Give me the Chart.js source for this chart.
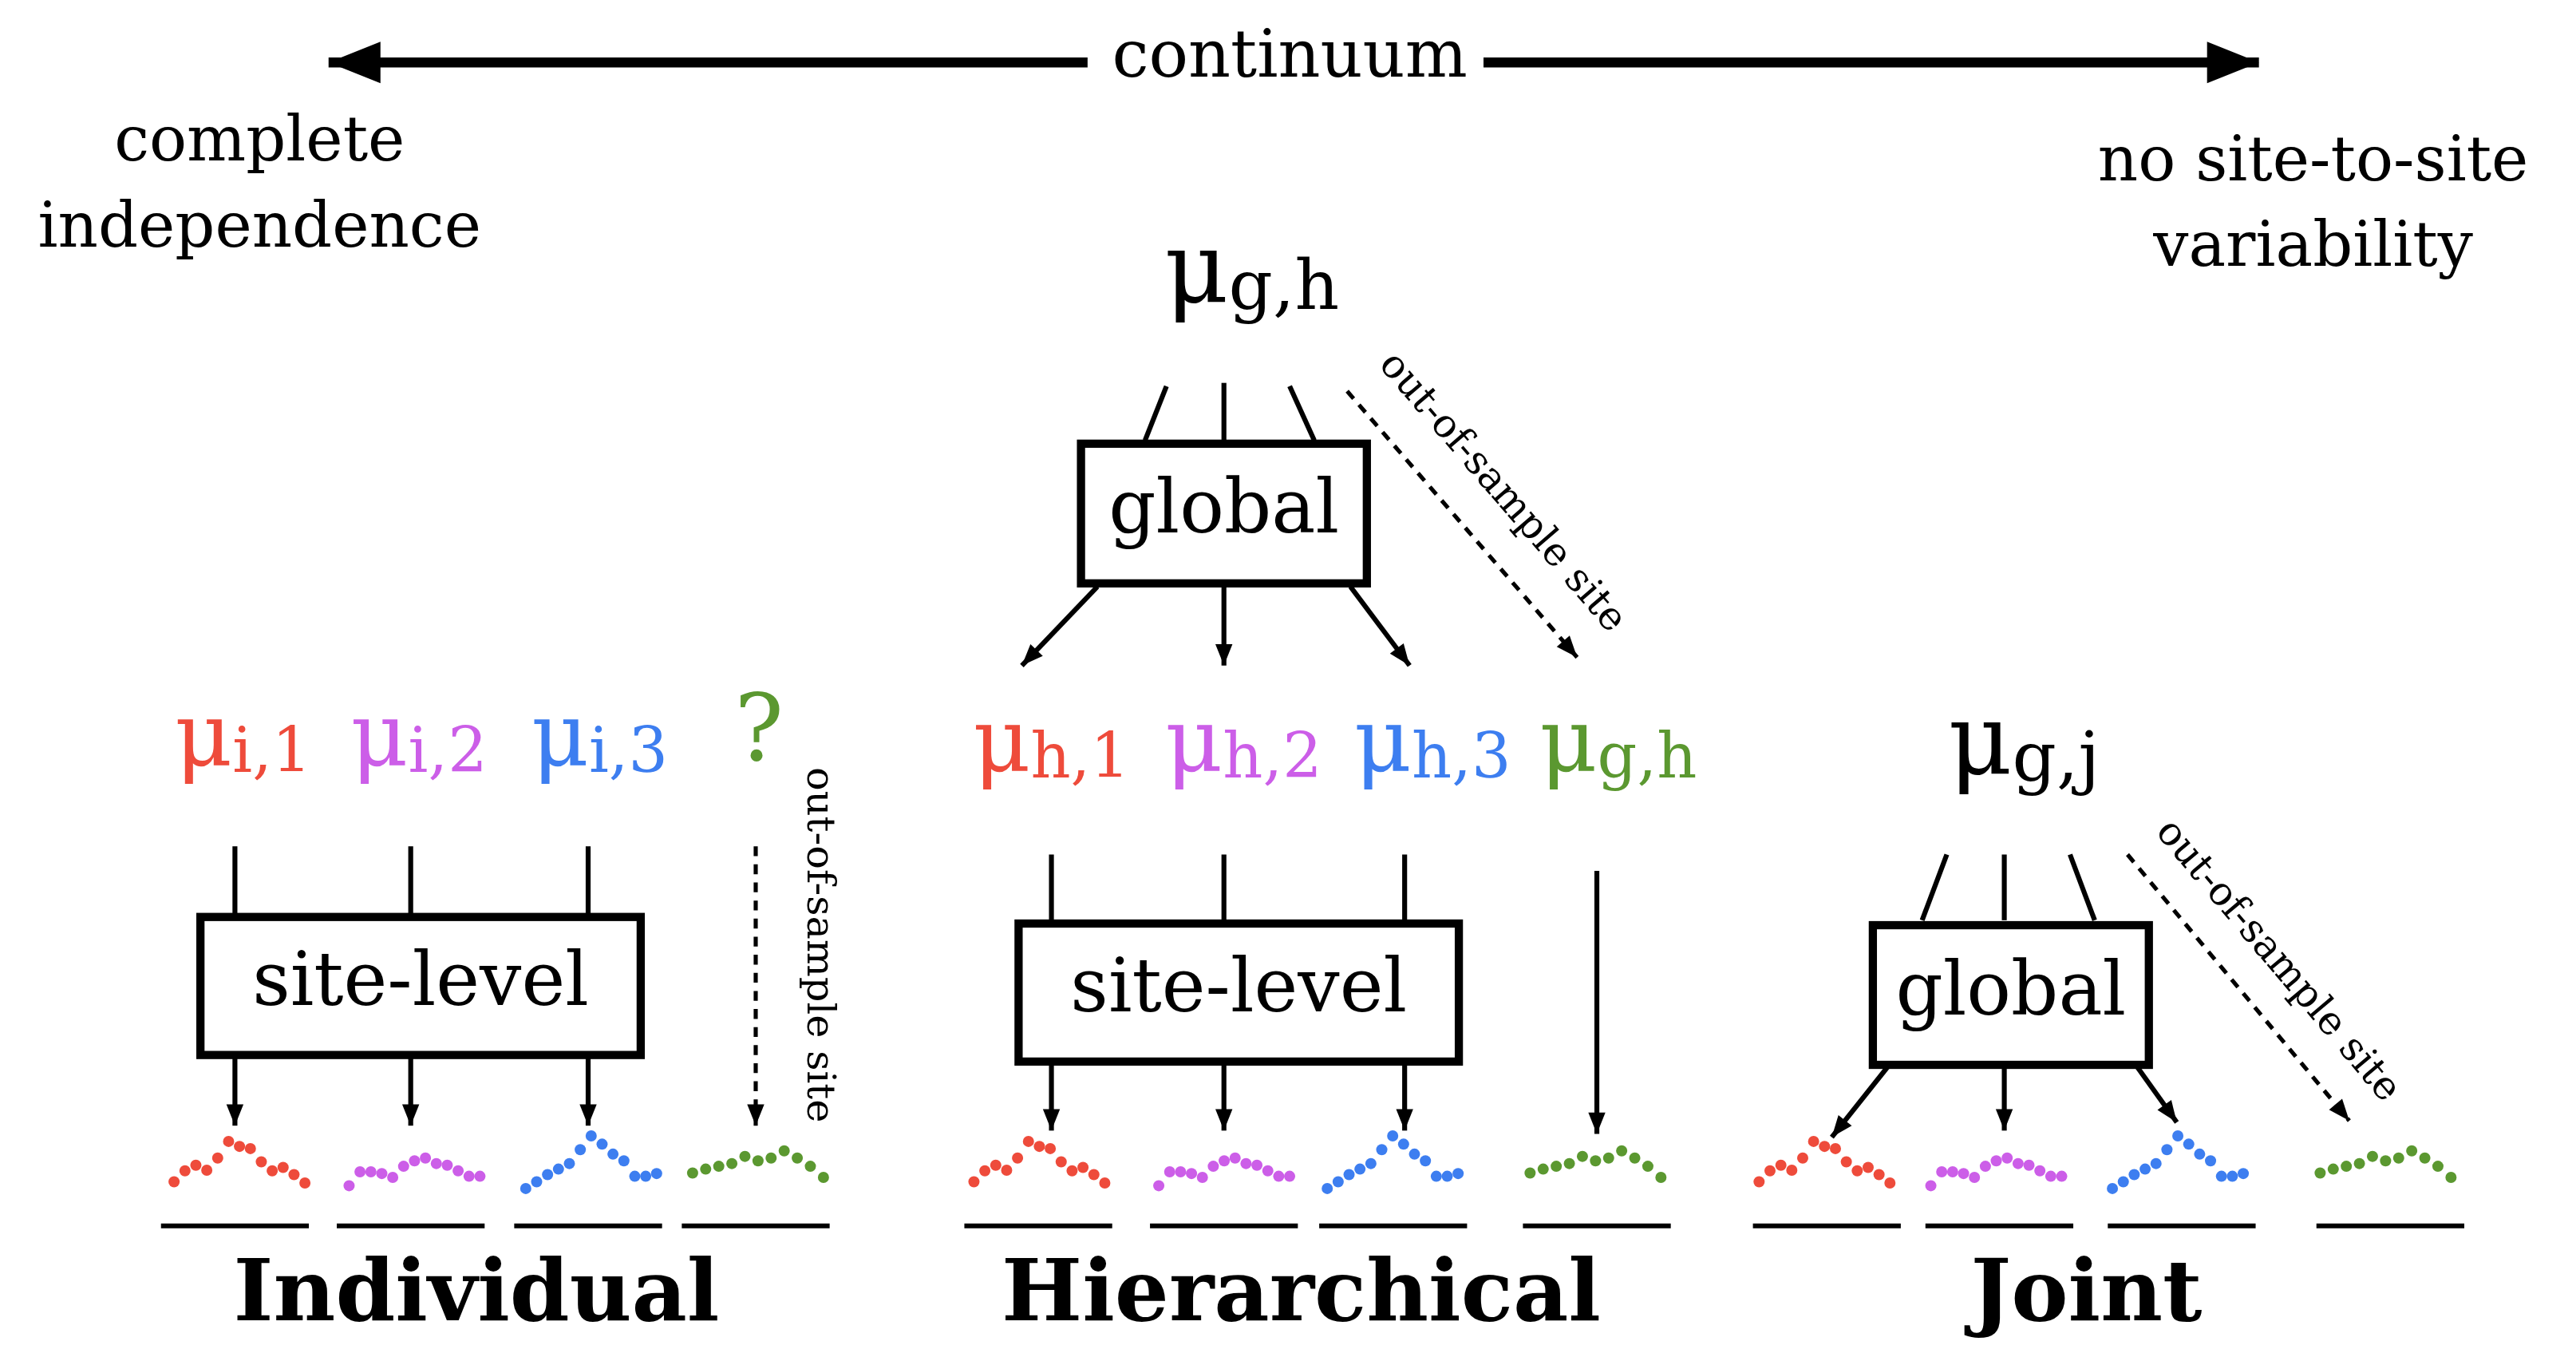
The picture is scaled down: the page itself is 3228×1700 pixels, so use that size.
<!DOCTYPE html>
<html><head><meta charset="utf-8">
<script src="https://cdn.jsdelivr.net/npm/chart.js@4"></script>
<style>html,body{margin:0;padding:0;background:#fff;overflow:hidden}</style>
</head><body>
<canvas id="c" width="3228" height="1700"></canvas>
<script>
// mini-series values (relative heights 0..1)
const redSeries    = [0.12,0.32,0.42,0.33,0.55,0.85,0.76,0.72,0.48,0.32,0.38,0.25,0.1];
const purpleSeries = [0.05,0.3,0.3,0.27,0.2,0.4,0.5,0.55,0.45,0.42,0.32,0.22,0.22];
const blueSeries   = [0.0,0.12,0.25,0.35,0.45,0.7,0.95,0.8,0.62,0.5,0.22,0.22,0.27];
const greenSeries  = [0.28,0.35,0.4,0.45,0.58,0.5,0.55,0.68,0.55,0.4,0.2];
const seriesColors = ['#ee4b3b','#cc5ee8','#3d7ef0','#5b9830'];
const panelCenters = [[143,250,358,460],[632,745,848,972],[1112,1217,1328,1455]];
const panelNames = ['Individual','Hierarchical','Joint'];

const S = 3228/1568;
const allSeries=[redSeries,purpleSeries,blueSeries,greenSeries];
const datasets=[];
panelCenters.forEach(row=>row.forEach((cx,k)=>{
  const s=allSeries[k], n=s.length, w=80;
  datasets.push({data:s.map((v,i)=>({x:cx-w/2+i*w/(n-1),y:726-v*34})),
    showLine:false,pointRadius:7,pointBackgroundColor:seriesColors[k],pointBorderWidth:0});
}));

const SER='"DejaVu Serif", serif';
function txt(ctx,t,x,y,size,color,bold,align){ctx.font=(bold?'bold ':'')+size+'px '+SER;ctx.fillStyle=color||'#000';ctx.textAlign=align||'center';ctx.textBaseline='middle';ctx.fillText(t,x,y);}
function line(ctx,x1,y1,x2,y2,w,dash){ctx.beginPath();ctx.setLineDash(dash?[6,5]:[]);ctx.lineWidth=w||2;ctx.strokeStyle='#000';ctx.moveTo(x1,y1);ctx.lineTo(x2,y2);ctx.stroke();ctx.setLineDash([]);}
function arrow(ctx,x1,y1,x2,y2,w,dash,hs){line(ctx,x1,y1,x2,y2,w,dash);hs=hs||14;const a=Math.atan2(y2-y1,x2-x1);ctx.beginPath();ctx.moveTo(x2,y2);ctx.lineTo(x2-hs*Math.cos(a-0.38),y2-hs*Math.sin(a-0.38));ctx.lineTo(x2-hs*Math.cos(a+0.38),y2-hs*Math.sin(a+0.38));ctx.closePath();ctx.fillStyle='#000';ctx.fill();}
function mu(ctx,x,y,sub,color,size){size=size||54;ctx.font=size+'px '+SER;const w1=ctx.measureText('μ').width;ctx.font=(size*0.7)+'px '+SER;const w2=ctx.measureText(sub).width;const x0=x-(w1+w2)/2;txt(ctx,'μ',x0,y,size,color,false,'left');txt(ctx,sub,x0+w1,y+size*0.15,size*0.7,color,false,'left');}
function box(ctx,x1,y1,x2,y2,label){ctx.lineWidth=5;ctx.strokeStyle='#000';ctx.strokeRect(x1,y1,x2-x1,y2-y1);txt(ctx,label,(x1+x2)/2,(y1+y2)/2,45);}
function rtxt(ctx,t,x,y,ang,size){ctx.save();ctx.translate(x,y);ctx.rotate(ang);txt(ctx,t,0,0,size||22);ctx.restore();}

const deco={id:'deco',afterDraw(chart){const ctx=chart.ctx;ctx.save();ctx.scale(S,S);
  arrow(ctx,662,38,200,38,6,false,34);arrow(ctx,903,38,1375,38,6,false,34);
  txt(ctx,'continuum',785,36,40);
  txt(ctx,'complete',158,88,38);txt(ctx,'independence',158,140,38);
  txt(ctx,'no site-to-site',1408,100,38);txt(ctx,'variability',1408,152,38);
  mu(ctx,762,168,'g,h','#000',60);
  line(ctx,710,235,697,268,3);line(ctx,745,233,745,268,3);line(ctx,785,235,800,268,3);
  box(ctx,658,270,832,355,'global');
  arrow(ctx,668,357,622,405,3);arrow(ctx,745,357,745,405,3);arrow(ctx,822,357,858,405,3);
  arrow(ctx,820,238,960,400,2.5,true);rtxt(ctx,'out-of-sample site',914,300,0.86,24);
  mu(ctx,148,452,'i,1',seriesColors[0]);mu(ctx,255,452,'i,2',seriesColors[1]);mu(ctx,365,452,'i,3',seriesColors[2]);
  txt(ctx,'?',462,448,56,seriesColors[3]);
  [143,250,358].forEach(x=>{line(ctx,x,515,x,558,3);arrow(ctx,x,642,x,685,3);});
  box(ctx,122,558,390,642,'site-level');
  arrow(ctx,460,515,460,685,2.5,true);rtxt(ctx,'out-of-sample site',498,575,Math.PI/2,24);
  mu(ctx,640,455,'h,1',seriesColors[0]);mu(ctx,757,455,'h,2',seriesColors[1]);mu(ctx,872,455,'h,3',seriesColors[2]);mu(ctx,985,455,'g,h',seriesColors[3]);
  [640,745,855].forEach(x=>{line(ctx,x,520,x,562,3);arrow(ctx,x,646,x,688,3);});
  box(ctx,620,562,888,646,'site-level');
  arrow(ctx,972,530,972,690,3);
  mu(ctx,1232,455,'g,j','#000',60);
  line(ctx,1185,520,1170,560,3);line(ctx,1220,520,1220,560,3);line(ctx,1260,520,1275,560,3);
  box(ctx,1140,563,1308,648,'global');
  arrow(ctx,1150,648,1115,692,3);arrow(ctx,1220,648,1220,688,3);arrow(ctx,1300,648,1325,683,3);
  arrow(ctx,1295,520,1430,682,2.5,true);rtxt(ctx,'out-of-sample site',1386,585,0.87,24);
  panelCenters.forEach(row=>row.forEach(cx=>line(ctx,cx-45,746,cx+45,746,3)));
  txt(ctx,panelNames[0],290,790,52,'#000',true);txt(ctx,panelNames[1],792,790,52,'#000',true);txt(ctx,panelNames[2],1270,790,52,'#000',true);
  ctx.restore();}};

new Chart(document.getElementById('c'),{type:'scatter',data:{datasets},
  options:{responsive:false,devicePixelRatio:1,animation:false,layout:{padding:0},
    plugins:{legend:{display:false},tooltip:{enabled:false}},
    scales:{x:{type:'linear',min:0,max:1568,display:false},y:{type:'linear',min:0,max:826,reverse:true,display:false}}},
  plugins:[deco]});
</script></body></html>
